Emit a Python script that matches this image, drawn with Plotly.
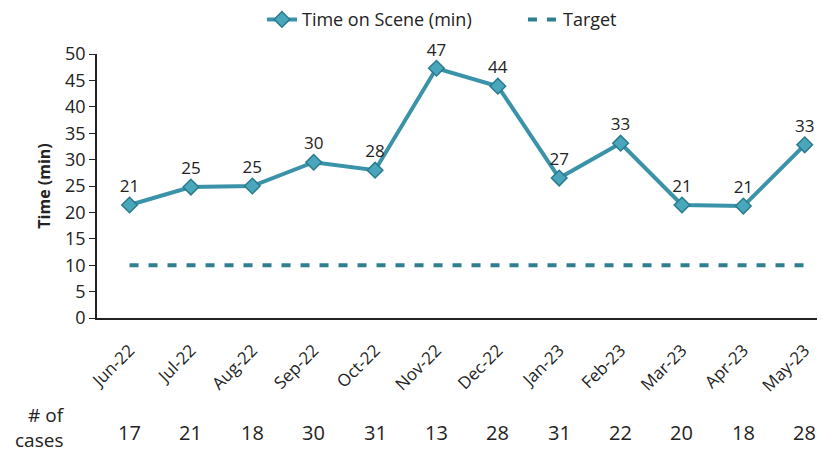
import plotly.graph_objects as go

months = ["Jun-22", "Jul-22", "Aug-22", "Sep-22", "Oct-22", "Nov-22",
          "Dec-22", "Jan-23", "Feb-23", "Mar-23", "Apr-23", "May-23"]
time_on_scene = [21.4, 24.8, 25.0, 29.5, 28.0, 47.3, 43.9, 26.5, 33.1, 21.4, 21.2, 32.8]
time_labels = ["21", "25", "25", "30", "28", "47", "44", "27", "33", "21", "21", "33"]
target = [10] * 12
cases = [17, 21, 18, 30, 31, 13, 28, 31, 22, 20, 18, 28]

FONT = "Open Sans"
fig = go.Figure()
fig.add_trace(go.Scatter(
    x=months, y=time_on_scene, name="Time on Scene (min)",
    mode="lines+markers+text", text=time_labels, textposition="top center",
    textfont=dict(size=17, color="#222"),
    line=dict(color="#3a93a8", width=4),
    marker=dict(symbol="diamond", size=12, color="#4aa6ba",
                line=dict(color="#2a7b8e", width=1.5)),
    cliponaxis=False,
))
fig.add_trace(go.Scatter(
    x=months, y=target, name="Target", mode="lines",
    line=dict(color="#2f7f90", width=4, dash="9px,10px"),
))

annotations = []
for m, c in zip(months, cases):
    annotations.append(dict(x=m, y=-0.432, xref="x", yref="paper", text=str(c),
                            yanchor="middle", showarrow=False,
                            font=dict(size=20, color="#222", family=FONT)))
annotations.append(dict(x=-0.07, y=-0.367, xref="paper", yref="paper", text="# of",
                        xanchor="center", yanchor="middle", showarrow=False,
                        font=dict(size=19, color="#222", family=FONT)))
annotations.append(dict(x=-0.08, y=-0.462, xref="paper", yref="paper", text="cases",
                        xanchor="center", yanchor="middle", showarrow=False,
                        font=dict(size=19, color="#222", family=FONT)))

# page body has an 8px margin, so the figure is sized to fill the rest of the window
fig.update_layout(
    width=817, height=452,
    margin=dict(l=89, r=0, t=46, b=142, autoexpand=False),
    paper_bgcolor="white", plot_bgcolor="white",
    font=dict(family=FONT, size=16, color="#222"),
    showlegend=True,
    legend=dict(orientation="h", x=0.2266, xanchor="left", y=1.13, yanchor="middle",
                bgcolor="rgba(0,0,0,0)", entrywidth=216, entrywidthmode="pixels",
                font=dict(size=18), traceorder="normal"),
    xaxis=dict(range=[-0.53, 11.33], showline=True, linecolor="#222", linewidth=1.5,
               showgrid=False, ticks="outside", ticklen=14, tickcolor="rgba(0,0,0,0)",
               tickangle=-45, tickfont=dict(size=17),
               zeroline=False, automargin=False),
    yaxis=dict(range=[0, 50], dtick=5, showline=True, linecolor="#222", linewidth=1.5,
               showgrid=False, ticks="outside", ticklen=6, tickcolor="#222",
               tickfont=dict(size=18), zeroline=False, automargin=False,
               title=dict(text="<b>Time (min)</b>", font=dict(size=16), standoff=10)),
    annotations=annotations,
)
fig.write_html("out.html")
